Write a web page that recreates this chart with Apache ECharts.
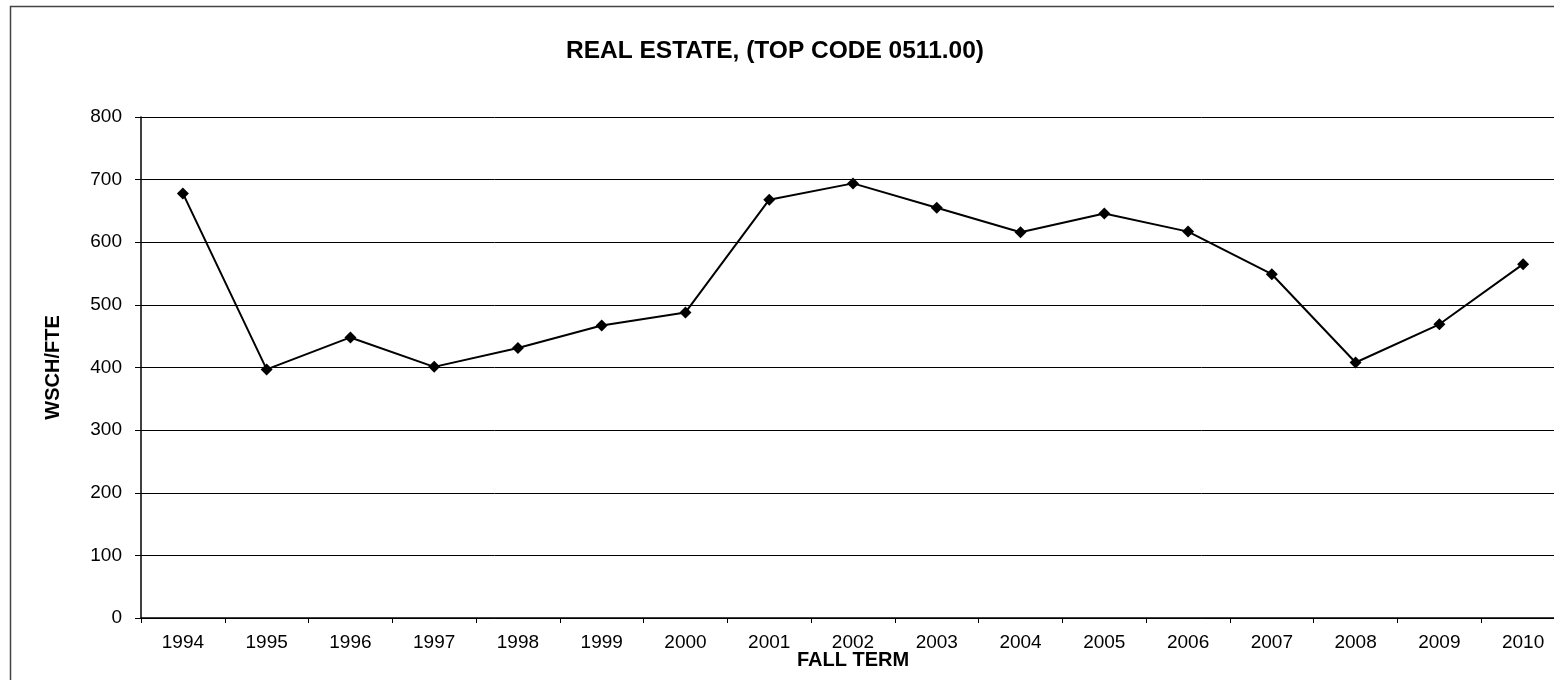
<!DOCTYPE html>
<html>
<head>
<meta charset="utf-8">
<script src="https://cdn.jsdelivr.net/npm/echarts@6/dist/echarts.min.js"></script>
<style>
html,body{margin:0;padding:0;background:#fff;}
#chart{width:1554px;height:680px;}
</style>
</head>
<body>
<div id="chart"></div>
<script>
const years = ['1994','1995','1996','1997','1998','1999','2000','2001','2002','2003','2004','2005','2006','2007','2008','2009','2010'];
const wschFte = [678, 397, 448, 401, 431, 467, 488, 668, 694, 655, 616, 646, 617, 549, 408, 469, 565];
const yTicks = [0, 100, 200, 300, 400, 500, 600, 700, 800];
const titleText = 'REAL ESTATE, (TOP CODE 0511.00)';
const xName = 'FALL TERM';
const yName = 'WSCH/FTE';

const FONT = '"Liberation Sans", Arial, sans-serif';
const chart = echarts.init(document.getElementById('chart'), null, {renderer: 'canvas'});
chart.setOption({
  animation: false,
  backgroundColor: '#fff',
  graphic: [{
    type: 'rect',
    shape: {x: 10.5, y: 6.5, width: 1700, height: 800},
    style: {fill: 'none', stroke: '#444', lineWidth: 1.5},
    silent: true,
    z: -1
  }],
  title: {
    text: titleText,
    left: 770,
    textAlign: 'center',
    top: 34,
    textStyle: {fontFamily: FONT, fontSize: 24.5, fontWeight: 'bold', color: '#000'}
  },
  grid: {left: 141, top: 117, width: 1424, height: 501, containLabel: false, outerBoundsMode: 'none'},
  xAxis: {
    type: 'category',
    data: years,
    boundaryGap: true,
    name: xName,
    nameLocation: 'middle',
    nameGap: 32,
    nameMoveOverlap: false,
    nameTextStyle: {fontFamily: FONT, fontSize: 20, fontWeight: 'bold', color: '#000'},
    axisLine: {lineStyle: {color: '#000', width: 1.5}},
    axisTick: {show: true, alignWithLabel: false, length: 5, lineStyle: {color: '#000'}},
    axisLabel: {fontFamily: FONT, fontSize: 19, color: '#000', margin: 15, interval: 0},
    splitLine: {show: false}
  },
  yAxis: {
    type: 'value',
    min: yTicks[0],
    max: yTicks[yTicks.length - 1],
    interval: 100,
    name: yName,
    nameLocation: 'middle',
    nameGap: 78,
    nameRotate: 90,
    nameTextStyle: {fontFamily: FONT, fontSize: 20, fontWeight: 'bold', color: '#000'},
    axisLine: {show: true, lineStyle: {color: '#000', width: 1.5}},
    axisTick: {show: true, length: 6, lineStyle: {color: '#000'}},
    axisLabel: {fontFamily: FONT, fontSize: 19, color: '#000', margin: 19},
    splitLine: {show: true, lineStyle: {color: '#000', width: 1}}
  },
  series: [{
    type: 'line',
    data: wschFte,
    symbol: 'diamond',
    symbolSize: 12,
    itemStyle: {color: '#000'},
    lineStyle: {color: '#000', width: 2},
    clip: false
  }]
});
</script>
</body>
</html>
